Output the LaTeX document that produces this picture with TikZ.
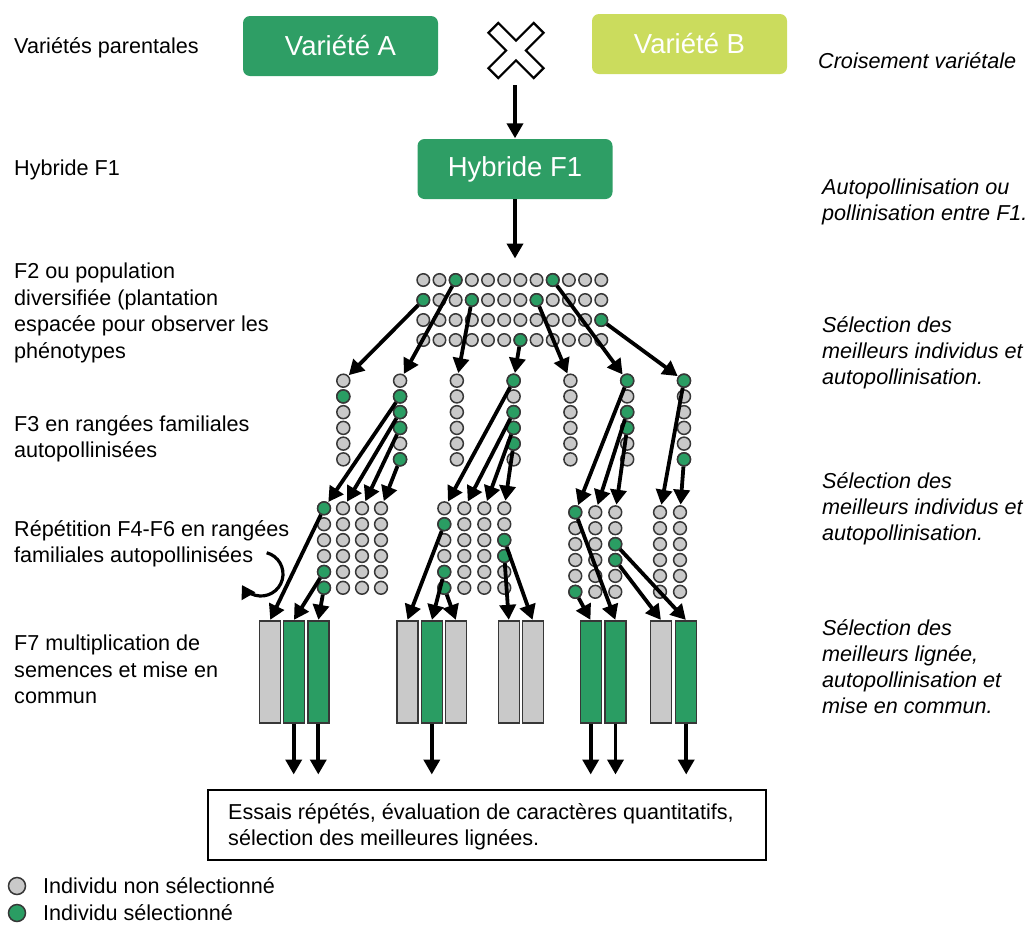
\documentclass[tikz,border=0pt]{standalone}
\usepackage{fontspec}
\setmainfont{Liberation Sans}
\usetikzlibrary{arrows.meta}
\definecolor{boxgreen}{RGB}{46,158,101}
\definecolor{dotgreen}{RGB}{42,157,99}
\definecolor{lightgreen}{RGB}{203,220,93}
\definecolor{dotgray}{RGB}{201,201,201}
\definecolor{dotline}{RGB}{55,55,55}
\begin{document}
\begin{tikzpicture}[x=1pt,y=-1pt,
  lbl/.style={anchor=base west, inner sep=0, font=\fontsize{21.6}{26}\selectfont},
  ilbl/.style={anchor=base west, inner sep=0, font=\fontsize{21.6}{26}\selectfont\itshape},
  topbox/.style={rounded corners=7pt, minimum width=195pt, minimum height=60pt, text=white, font=\fontsize{27.5}{30}\selectfont, inner sep=0},
  dotg/.style={circle, draw=dotline, fill=dotgray, line width=1.5pt, minimum size=12.5pt, inner sep=0},
  dots/.style={dotg, fill=dotgreen},
  barbox/.style={draw=dotline, line width=1.4pt, minimum width=21pt, minimum height=102pt, inner sep=0},
  arr/.style={line width=3.8pt, -{Triangle[length=15pt,width=16pt]}, shorten >=0.5pt},
]
\useasboundingbox (0,0) rectangle (1031,927);

% ---- top ----
\node[topbox, fill=boxgreen] (varA) at (340.5,46) {Variété A};
\node[topbox, fill=lightgreen] (varB) at (689.5,44) {Variété B};
\node[topbox, fill=boxgreen] (hyb) at (515,169) {Hybride F1};
\draw[line width=2.2pt, fill=white, shift={(516,50.5)}, rotate=45]
  (-7,-32) -- (7,-32) -- (7,-7) -- (32,-7) -- (32,7) -- (7,7) -- (7,32) -- (-7,32)
  -- (-7,7) -- (-32,7) -- (-32,-7) -- (-7,-7) -- cycle;
\coordinate (crossbot) at (515,85);
\coordinate (f2top) at (515,259);
\draw[arr] (crossbot) -- (hyb.north);
\draw[arr] (hyb.south) -- (f2top);

% ---- F2 grid ----
\foreach \r in {1,...,4} \foreach \c in {1,...,12}
  \node[dotg] (f2-\r-\c) at ({423.3+(\c-1)*16.18},{280+(\r-1)*20}) {};
\foreach \r/\c in {1/3,1/9,2/1,2/4,2/8,3/12,4/7}
  \node[dots] (f2-\r-\c) at (f2-\r-\c) {};

% ---- F3 columns ----
\foreach \k in {1,...,7} \foreach \r in {1,...,6}
  \node[dotg, minimum size=13pt] (f3-\k-\r) at ({343.3+(\k-1)*56.78},{380.7+(\r-1)*15.73}) {};
\foreach \k/\r in {1/2,2/2,2/3,2/4,2/6,4/1,4/3,4/4,4/5,6/1,6/3,6/4,7/1,7/6}
  \node[dots, minimum size=13pt] (f3-\k-\r) at (f3-\k-\r) {};

% ---- F4-F6 groups ----
\foreach \g/\xo/\dx/\yo/\n in {1/324/19/508.3/4, 2/444.3/20/508.3/4, 3/575.3/20/512.3/3, 4/660/20/512.3/2}
  \foreach \c in {1,...,\n} \foreach \r in {1,...,6}
    \node[dotg, minimum size=12.8pt] (f4-\g-\c-\r) at ({\xo+(\c-1)*\dx},{\yo+(\r-1)*15.9}) {};
\foreach \g/\c/\r in {1/1/1,1/1/5,1/1/6,2/1/2,2/1/5,2/1/6,2/4/3,2/4/4,3/1/1,3/1/6,3/3/3,3/3/4}
  \node[dots, minimum size=12.8pt] (f4-\g-\c-\r) at (f4-\g-\c-\r) {};

% ---- F7 bars ----
\foreach \i/\x/\col in {1/270/dotgray,2/293.7/dotgreen,3/318.3/dotgreen,
  4/407.3/dotgray,5/431.8/dotgreen,6/456/dotgray,
  7/508.8/dotgray,8/532.7/dotgray,
  9/590.7/dotgreen,10/615.5/dotgreen,
  11/661.2/dotgray,12/686.2/dotgreen}
  \node[barbox, fill=\col] (b\i) at (\x,672) {};

% ---- arrows F2 -> F3 ----
\draw[arr] (f2-2-1) -- (f3-1-1);
\draw[arr] (f2-1-3) -- (f3-2-1);
\draw[arr] (f2-2-4) -- (f3-3-1);
\draw[arr] (f2-4-7) -- (f3-4-1);
\draw[arr] (f2-2-8) -- (f3-5-1);
\draw[arr] (f2-1-9) -- (f3-6-1);
\draw[arr] (f2-3-12) -- (f3-7-1);

% ---- arrows F3 -> F4 ----
\draw[arr] (f3-2-2) -- (f4-1-1-1);
\draw[arr] (f3-2-3) -- (f4-1-2-1);
\draw[arr] (f3-2-4) -- (f4-1-3-1);
\draw[arr] (f3-2-6) -- (f4-1-4-1);
\draw[arr] (f3-4-1) -- (f4-2-1-1);
\draw[arr] (f3-4-3) -- (f4-2-2-1);
\draw[arr] (f3-4-4) -- (f4-2-3-1);
\draw[arr] (f3-4-5) -- (f4-2-4-1);
\draw[arr] (f3-6-1) -- (f4-3-1-1);
\draw[arr] (f3-6-3) -- (f4-3-2-1);
\draw[arr] (f3-6-4) -- (f4-3-3-1);
\draw[arr] (f3-7-1) -- (f4-4-1-1);
\draw[arr] (f3-7-6) -- (f4-4-2-1);

% ---- arrows F4 -> F7 ----
\draw[arr] (f4-1-1-1) -- (b1.north);
\draw[arr] (f4-1-1-5) -- (b2.north);
\draw[arr] (f4-1-1-6) -- (b3.north);
\draw[arr] (f4-2-1-2) -- (b4.north);
\draw[arr] (f4-2-1-5) -- (b5.north);
\draw[arr] (f4-2-1-6) -- (b6.north);
\draw[arr] (f4-2-4-4) -- (b7.north);
\draw[arr] (f4-2-4-3) -- (b8.north);
\draw[arr] (f4-3-1-6) -- (b9.north);
\draw[arr] (f4-3-1-1) -- (b10.north);
\draw[arr] (f4-3-3-4) -- (b11.north);
\draw[arr] (f4-3-3-3) -- (b12.north);

% ---- arrows F7 -> essais ----
\foreach \i in {2,3,5,9,10,12} {
  \coordinate (o\i) at (b\i.south |- 0,775);
  \draw[arr] (b\i.south) -- (o\i);
}

% ---- final box ----
\node[draw, line width=2.4pt, minimum width=558pt, minimum height=70pt, inner sep=0] (final) at (487,825) {};
\node[lbl] (fin1) at (228,819.5) {Essais répétés, évaluation de caractères quantitatifs,};
\node[lbl] (fin2) at (228,845.5) {sélection des meilleures lignées.};

% ---- loop arrow ----
\coordinate (loopc) at (261,574);
\draw[line width=3.2pt, -{Triangle[length=13pt,width=15pt]}] (loopc) ++(-75:22) arc[start angle=-75, end angle=150, radius=22];

% ---- left labels ----
\node[lbl] (l1) at (14,53) {Variétés parentales};
\node[lbl] (l2) at (14,175.5) {Hybride F1};
\node[lbl] (l3a) at (14,278.5) {F2 ou population};
\node[lbl] (l3b) at (14,305.2) {diversifiée (plantation};
\node[lbl] (l3c) at (14,331.9) {espacée pour observer les};
\node[lbl] (l3d) at (14,358.6) {phénotypes};
\node[lbl] (l4a) at (14,431.5) {F3 en rangées familiales};
\node[lbl] (l4b) at (14,457.5) {autopollinisées};
\node[lbl] (l5a) at (14,536.5) {Répétition F4-F6 en rangées};
\node[lbl] (l5b) at (14,562.5) {familiales autopollinisées};
\node[lbl] (l6a) at (14,650.5) {F7 multiplication de};
\node[lbl] (l6b) at (14,677) {semences et mise en};
\node[lbl] (l6c) at (14,703.5) {commun};

% ---- right labels ----
\node[ilbl] (r1) at (818,68.5) {Croisement variétale};
\node[ilbl] (r2a) at (822,194.5) {Autopollinisation ou};
\node[ilbl] (r2b) at (822,220.5) {pollinisation entre F1.};
\node[ilbl] (r3a) at (822,332.5) {Sélection des};
\node[ilbl] (r3b) at (822,358.5) {meilleurs individus et};
\node[ilbl] (r3c) at (822,384.5) {autopollinisation.};
\node[ilbl] (r4a) at (822,488.5) {Sélection des};
\node[ilbl] (r4b) at (822,514.5) {meilleurs individus et};
\node[ilbl] (r4c) at (822,540.5) {autopollinisation.};
\node[ilbl] (r5a) at (822,635.5) {Sélection des};
\node[ilbl] (r5b) at (822,661.5) {meilleurs lignée,};
\node[ilbl] (r5c) at (822,687.5) {autopollinisation et};
\node[ilbl] (r5d) at (822,713.5) {mise en commun.};

% ---- legend ----
\node[dotg, minimum size=17pt] (leg1) at (17,886) {};
\node[dots, minimum size=17pt] (leg2) at (17,913) {};
\node[lbl] (leg1t) at (43,893.5) {Individu non sélectionné};
\node[lbl] (leg2t) at (43,920.5) {Individu sélectionné};
\end{tikzpicture}
\end{document}
